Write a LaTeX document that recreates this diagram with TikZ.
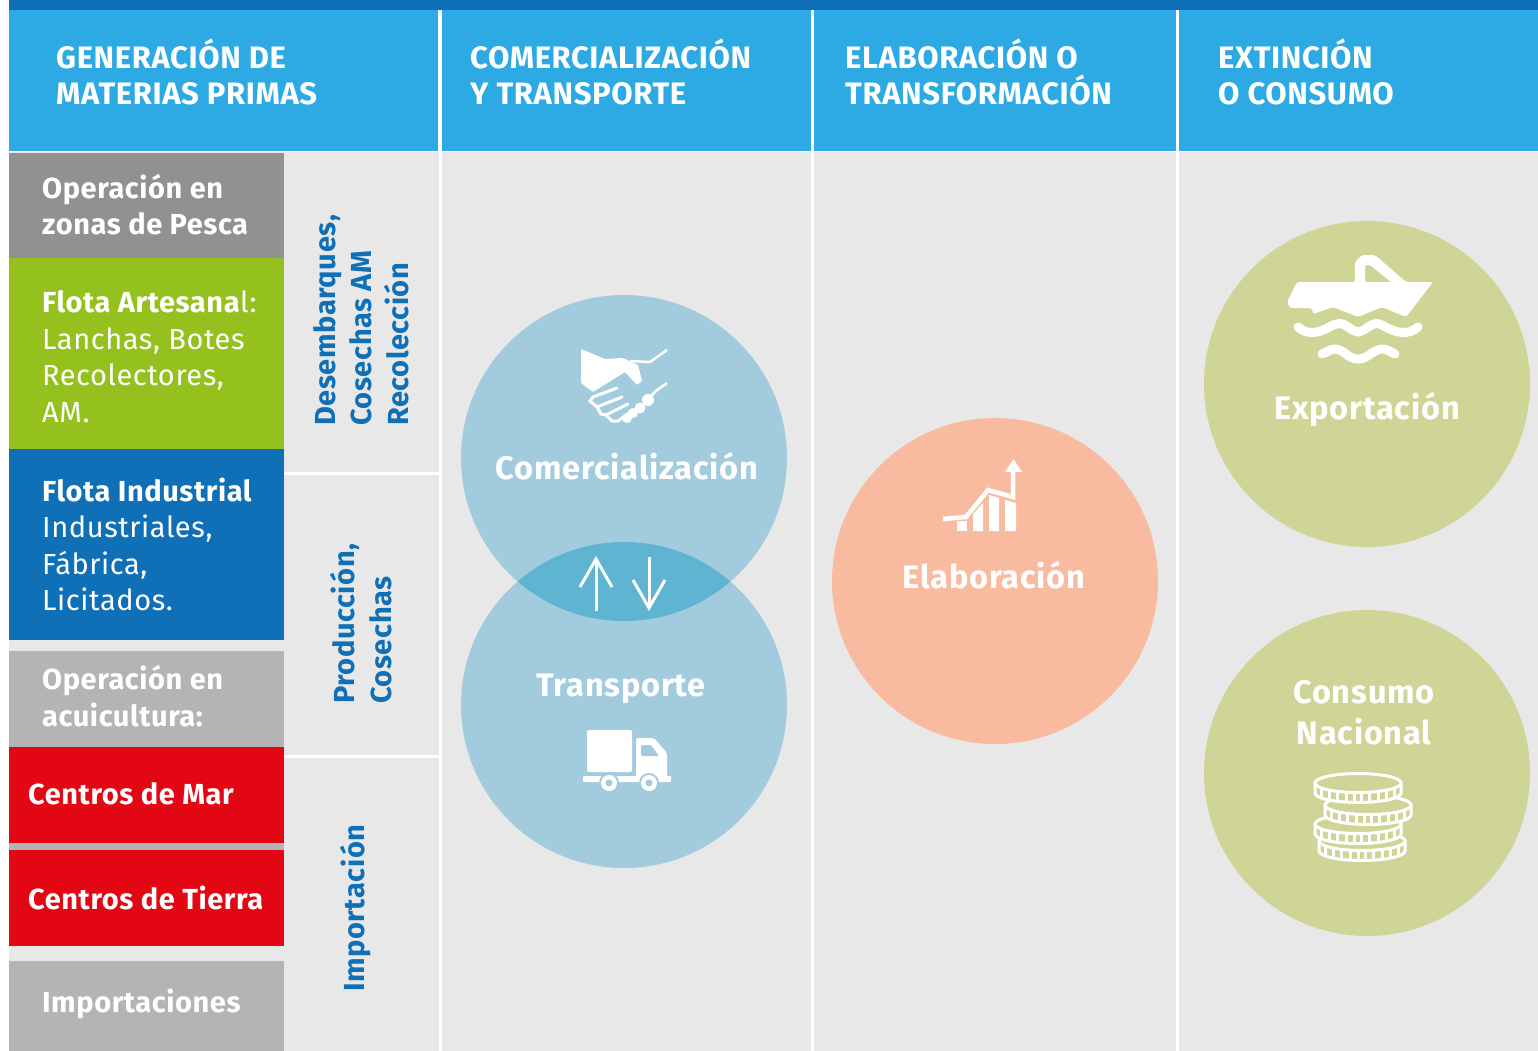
\documentclass[tikz,border=0pt]{standalone}
\usepackage{fontspec}
\setmainfont{Fira Sans}
\usetikzlibrary{arrows.meta}
\definecolor{azul}{HTML}{0F6FB7}
\definecolor{celeste}{HTML}{2DAAE3}
\definecolor{fondo}{HTML}{E8E8E8}
\definecolor{grisosc}{HTML}{91918F}
\definecolor{griscla}{HTML}{B4B4B4}
\definecolor{verde}{HTML}{95C11F}
\definecolor{rojo}{HTML}{E30613}
\definecolor{aguaclr}{HTML}{A3CBDE}
\definecolor{aguaosc}{HTML}{5FB4D2}
\definecolor{salmon}{HTML}{F9BBA0}
\definecolor{oliva}{HTML}{CFD596}
\begin{document}
\begin{tikzpicture}[x=1pt,y=-1pt,
        cell/.style = {anchor=north west,minimum width=275pt,inner sep=0pt,outer sep=0pt},
        head/.style = {anchor=north west,fill=celeste,minimum height=141pt,inner sep=0pt,outer sep=0pt},
        headtext/.style = {anchor=west,inner sep=0pt,align=left,white,font=\fontsize{31}{36}\selectfont\bfseries\addfontfeature{LetterSpace=2}},
        celltext/.style = {anchor=west,inner sep=0pt,align=left,white,font=\fontsize{29}{36.5}\selectfont\addfontfeature{LetterSpace=2}},
        side/.style = {anchor=west,rotate=90,inner sep=0pt,align=left,azul,font=\fontsize{29}{36.5}\selectfont\bfseries\addfontfeature{LetterSpace=2}},
        bubble/.style = {circle,minimum size=326pt,inner sep=0pt,outer sep=0pt},
        bubbletext/.style = {inner sep=0pt,align=center,white,font=\fontsize{32.5}{41}\selectfont\bfseries\addfontfeature{LetterSpace=2.5}},
        updown/.style = {white,line width=3pt,-{Straight Barb[length=28pt,width=32pt]}}]
    \useasboundingbox (0,0) rectangle (1538,1051);
    \fill[white] (0,0) rectangle (1538,1051);
    \fill[fondo] (9,152) rectangle (1538,1051);
    \fill[azul] (9,0) rectangle (1538,10);

    \node[head,minimum width=429pt] (colgen) at (9,10) {};
    \node[head,minimum width=369pt] (colcom) at (442,10) {};
    \node[head,minimum width=362pt] (colela) at (814,10) {};
    \node[head,minimum width=360pt] (colext) at (1178,10) {};
    \draw[white,line width=3pt] (440,10) -- (440,1051);
    \draw[white,line width=3pt] (812.5,10) -- (812.5,1051);
    \draw[white,line width=3pt] (1177,10) -- (1177,1051);
    \draw[white,line width=3pt] (284,473) -- (439,473);
    \draw[white,line width=3pt] (284,756) -- (439,756);

    \node[headtext] (gentxt) at (56,72) {GENERACIÓN DE\\MATERIAS PRIMAS};
    \node[headtext] (comtxt) at (470,72) {COMERCIALIZACIÓN\\Y TRANSPORTE};
    \node[headtext] (elatxt) at (845,72) {ELABORACIÓN O\\TRANSFORMACIÓN};
    \node[headtext] (exttxt) at (1218,72) {EXTINCIÓN\\O CONSUMO};

    \fill[griscla] (9,843) rectangle (284,850);
    \node[cell,fill=grisosc,minimum height=105pt] (pesca) at (9,153) {};
    \node[cell,fill=verde,minimum height=191pt] (artesanal) at (9,258) {};
    \node[cell,fill=azul,minimum height=191pt] (industrial) at (9,449) {};
    \node[cell,fill=griscla,minimum height=96pt] (acui) at (9,651) {};
    \node[cell,fill=rojo,minimum height=96pt] (mar) at (9,747) {};
    \node[cell,fill=rojo,minimum height=96pt] (tierra) at (9,850) {};
    \node[cell,fill=griscla,minimum height=90pt] (import) at (9,961) {};

    \node[celltext] at ([xshift=33pt,yshift=1pt]pesca.west) {\textbf{Operación en}\\\textbf{zonas de Pesca}};
    \node[celltext] at ([xshift=33pt,yshift=-3pt]artesanal.west) {\textbf{Flota Artesana}l:\\Lanchas, Botes\\Recolectores,\\AM.};
    \node[celltext] at ([xshift=33pt]industrial.west) {\textbf{Flota Industrial}\\Industriales,\\Fábrica,\\Licitados.};
    \node[celltext] at ([xshift=33pt,yshift=3pt]acui.west) {\textbf{Operación en}\\\textbf{acuicultura:}};
    \node[celltext] at ([xshift=19pt,yshift=1pt]mar.west) {\textbf{Centros de Mar}};
    \node[celltext] at ([xshift=19pt]tierra.west) {\textbf{Centros de Tierra}};
    \node[celltext] at ([xshift=33pt,yshift=2pt]import.west) {\textbf{Importaciones}};

    \node[side] (desem) at (361,426) {Desembarques,\\Cosechas AM\\Recolección};
    \node[side] (prod) at (361,704) {Producción,\\Cosechas};
    \node[side] (impo) at (356,992) {Importación};

    \node[bubble,fill=aguaclr] (comer) at (624,458) {};
    \node[bubble,fill=aguaclr] (trans) at (624,705) {};
    \node[bubble,fill=salmon] (elab) at (995,581) {};
    \node[bubble,fill=oliva] (expo) at (1367,384) {};
    \node[bubble,fill=oliva] (cons) at (1367,773) {};
    \begin{scope}
        \clip (comer) circle (163pt);
        \fill[aguaosc] (trans) circle (163pt);
    \end{scope}

    \node[bubbletext] at (627,466) {Comercialización};
    \node[bubbletext] at (621,689) {Transporte};
    \node[bubbletext] at (994,575) {Elaboración};
    \node[bubbletext] at (1367,410) {Exportación};
    \node[bubbletext] at (1364,713) {Consumo\\Nacional};

    \coordinate (upa) at (596,611);
    \coordinate (upb) at (596,556);
    \coordinate (downa) at (649,557);
    \coordinate (downb) at (649,611);
    \draw[updown] (upa) -- (upb);
    \draw[updown] (downa) -- (downb);

    \fill[white,rounded corners=1pt] (581,349) -- (605,359) -- (623,358) -- (638,365) -- (642,381)
        -- (637,385) -- (625,372) -- (593,392) -- (581,383) -- cycle;
    \draw[white,line width=2.5pt] (630,361) -- (650,362) -- (667,350);
    \draw[white,line width=2.5pt] (651,396) -- (657,390) -- (667,383);
    \draw[white,line width=3pt,line cap=round] (617,388) -- (593,397) -- (590,401) -- (597,407) -- (622,397);
    \draw[white,line width=3pt,line cap=round] (597,407) -- (601,414) -- (606,415) -- (628,404);
    \draw[white,line width=3pt,line cap=round] (606,415) -- (612,421) -- (618,421) -- (630,412);
    \fill[white] (648,400) circle (6pt) (640,408) circle (5.5pt) (633,413) circle (5pt)
        (627,418) circle (5pt);

    \fill[white,rounded corners=2pt] (587,730) rectangle (632,772);
    \fill[white,rounded corners=2pt] (636,738) -- (654,738) -- (667,753) -- (667,778) -- (636,778) -- cycle;
    \fill[aguaclr,rounded corners=1pt] (641,745) -- (651,745) -- (659,756) -- (641,756) -- cycle;
    \fill[white,rounded corners=1pt] (583,776) rectangle (671,782);
    \foreach \wx in {609,649}{
        \fill[aguaclr] (\wx,783) circle (10pt);
        \fill[white] (\wx,783) circle (8pt);
        \fill[aguaclr] (\wx,783) circle (3.5pt);
    }

    \fill[white] (957,521) rectangle (967,531);
    \fill[white] (973,514) -- (983,503) -- (983,531) -- (973,531) -- cycle;
    \fill[white] (989,495) -- (999,498) -- (999,531) -- (989,531) -- cycle;
    \fill[white] (1005,500) -- (1016,503) -- (1016,531) -- (1005,531) -- cycle;
    \draw[salmon,line width=7pt] (943,519) -- (966,517) -- (988,490) -- (1013,497);
    \draw[white,line width=4.5pt] (943,519) -- (966,517) -- (988,490) -- (1013,497) -- (1013,470);
    \fill[white] (1005,472) -- (1022,472) -- (1013.5,459) -- cycle;

    \fill[white,rounded corners=2pt,even odd rule] (1297,282) -- (1355,282) -- (1355,262) -- (1362,255)
        -- (1375,255) -- (1406,282) -- (1433,282) -- (1406,317) -- (1382,307) -- (1358,317) -- (1333,307)
        -- (1313,314) -- (1312,308) -- (1290,308) -- (1287,302) -- cycle
        (1365,282) -- (1365,265) -- (1370,265) -- (1391,282) -- cycle;
    \draw[white,line width=9pt,line cap=round] (1298,327) .. controls (1308,336) and (1320,333) .. (1333,325)
        .. controls (1345,320) and (1348,330) .. (1358,332) .. controls (1368,330) and (1372,320) .. (1382,325)
        .. controls (1395,333) and (1408,336) .. (1418,327);
    \draw[white,line width=9pt,line cap=round] (1322,354) .. controls (1328,352) and (1330,349) .. (1335,349)
        .. controls (1345,350) and (1348,359) .. (1358,359) .. controls (1368,359) and (1372,350) .. (1382,349)
        .. controls (1388,349) and (1390,352) .. (1395,354);

    \foreach \cx/\cy in {1362/841,1358/824,1368/805,1358/783}{
        \fill[oliva,draw=white,line width=3pt] (\cx-43,\cy) -- (\cx-43,\cy+10) arc[start angle=180,end angle=360,x radius=43pt,y radius=9.5pt]
            -- (\cx+43,\cy) -- cycle;
        \foreach \ang in {213,229,242,254,265,275,286,298,311,327}{
            \draw[white,line width=3pt] ([shift={(\ang:43pt and 9.5pt)}]\cx,\cy) -- ++(0,10);
        }
        \draw[fill=oliva,draw=white,line width=3pt] (\cx,\cy) ellipse (43pt and 9.5pt);
    }
\end{tikzpicture}
\end{document}
